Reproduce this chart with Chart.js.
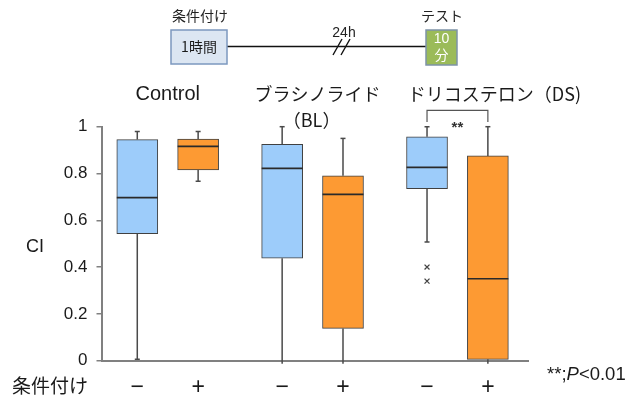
<!DOCTYPE html>
<html>
<head>
<meta charset="utf-8">
<script src="https://cdn.jsdelivr.net/npm/chart.js@4.4.1/dist/chart.umd.min.js"></script>
<style>
  html, body { margin: 0; padding: 0; background: #fff; }
  #c { display: block; }
</style>
</head>
<body>
<canvas id="c" width="629" height="395"></canvas>
<script>
// Conditioning index (CI) per group: without (−) / with (+) conditioning
const groups = ['Control', 'ブラシノライド', 'ドリコステロン'];
const conditioning = ['−', '+', '−', '+', '−', '+'];
const whiskerMax = [0.98, 0.98, 1.00, 0.95, 1.00, 1.00];
const q3 = [0.945, 0.947, 0.925, 0.79, 0.957, 0.875];
const medians = [0.697, 0.916, 0.822, 0.711, 0.826, 0.35];
const q1 = [0.543, 0.815, 0.438, 0.138, 0.735, 0.006];
const whiskerMin = [0.006, 0.767, 0, 0, 0.507, 0];
const outliersDSMinus = [0.40, 0.34];
const yTicks = [0, 0.2, 0.4, 0.6, 0.8, 1];

const BLUE = '#9dccfa';
const ORANGE = '#fd9a33';
const LATIN = '"Liberation Sans", Arial, "Noto Sans CJK JP", sans-serif';
const JP = '"Noto Sans CJK JP", "Liberation Sans", sans-serif';

// each box sits left (−) or right (+) of its group centre
const PAIR_OFFSET = 0.21;
const xPos = conditioning.map((_, i) => Math.floor(i / 2) + 1 + (i % 2 ? PAIR_OFFSET : -PAIR_OFFSET));

const boxPlotExtras = {
  id: 'boxPlotExtras',
  afterDatasetsDraw(chart) {
    const { ctx, scales: { y } } = chart;
    const bars = chart.getDatasetMeta(0).data;
    ctx.save();
    bars.forEach((bar, i) => {
      const cx = bar.x;
      const half = bar.width / 2;
      // whiskers
      ctx.strokeStyle = '#4a4a4a';
      ctx.lineWidth = 1.5;
      ctx.beginPath();
      ctx.moveTo(cx, y.getPixelForValue(q3[i]));
      ctx.lineTo(cx, y.getPixelForValue(whiskerMax[i]));
      ctx.moveTo(cx, y.getPixelForValue(q1[i]));
      ctx.lineTo(cx, y.getPixelForValue(whiskerMin[i]) + (whiskerMin[i] === 0 ? 3 : 0));
      ctx.stroke();
      // caps
      ctx.beginPath();
      [whiskerMax[i], whiskerMin[i]].forEach(v => {
        if (v === 0) return;
        const py = y.getPixelForValue(v);
        ctx.moveTo(cx - 2.5, py);
        ctx.lineTo(cx + 2.5, py);
      });
      ctx.stroke();
      // median
      ctx.strokeStyle = '#2a2a2a';
      ctx.lineWidth = 1.6;
      ctx.beginPath();
      const my = y.getPixelForValue(medians[i]);
      ctx.moveTo(cx - half, my);
      ctx.lineTo(cx + half, my);
      ctx.stroke();
    });

    // significance bracket between DS − and DS +
    const xa = bars[4].x, xb = bars[5].x;
    const top = y.getPixelForValue(1.07), leg = y.getPixelForValue(1.02);
    ctx.strokeStyle = '#555';
    ctx.lineWidth = 1.2;
    ctx.beginPath();
    ctx.moveTo(xa, leg); ctx.lineTo(xa, top); ctx.lineTo(xb, top); ctx.lineTo(xb, leg);
    ctx.stroke();
    ctx.fillStyle = '#333';
    ctx.font = 'bold 15px ' + LATIN;
    ctx.textAlign = 'center';
    ctx.textBaseline = 'middle';
    ctx.fillText('**', (xa + xb) / 2, y.getPixelForValue(1.0) + 1);
    ctx.restore();
  },
  afterDraw(chart) {
    const { ctx, scales: { x, y } } = chart;
    ctx.save();
    ctx.textAlign = 'center';
    ctx.textBaseline = 'middle';
    ctx.fillStyle = '#1a1a1a';

    // group titles
    ctx.font = '20px ' + LATIN;
    ctx.fillText(groups[0], x.getPixelForValue(1), 94);
    ctx.font = '18px ' + JP;
    ctx.fillText(groups[1], x.getPixelForValue(2) + 5, 94);
    ctx.fillText('（BL）', x.getPixelForValue(2) - 1, 120);
    ctx.fillText(groups[2] + '（DS)', x.getPixelForValue(3) + 37, 94);

    // y axis label
    ctx.font = '18px ' + LATIN;
    ctx.fillText('CI', 35, y.getPixelForValue(0.5) + 3);

    // row label for the conditioning ticks
    ctx.font = '19px ' + JP;
    ctx.textAlign = 'left';
    ctx.fillText('条件付け', 12, 386);

    // significance note
    ctx.font = '18.5px ' + LATIN;
    let tx = 547;
    const ty = 375;
    ctx.fillText('**;', tx, ty); tx += ctx.measureText('**;').width;
    ctx.font = 'italic 18.5px ' + LATIN;
    ctx.fillText('P', tx, ty); tx += ctx.measureText('P').width;
    ctx.font = '18.5px ' + LATIN;
    ctx.fillText('<0.01', tx, ty);

    // protocol timeline
    ctx.textAlign = 'center';
    ctx.font = '14px ' + JP;
    ctx.fillStyle = '#222';
    ctx.fillText('条件付け', 200, 16);
    ctx.fillText('テスト', 442, 16);
    ctx.font = '14px ' + LATIN;
    ctx.fillText('24h', 344, 33);

    ctx.strokeStyle = '#111';
    ctx.lineWidth = 1.6;
    ctx.beginPath();
    ctx.moveTo(227, 46.5); ctx.lineTo(426, 46.5);
    ctx.stroke();
    ctx.lineWidth = 1.4;
    ctx.beginPath();
    ctx.moveTo(333, 55); ctx.lineTo(342, 39);
    ctx.moveTo(341, 55); ctx.lineTo(350, 39);
    ctx.stroke();

    ctx.fillStyle = '#dce6f2';
    ctx.fillRect(171, 30, 56, 34);
    ctx.strokeStyle = '#7c98bf';
    ctx.lineWidth = 1.5;
    ctx.strokeRect(171, 30, 56, 34);
    ctx.fillStyle = '#1a1a1a';
    ctx.font = '14px ' + JP;
    ctx.fillText('1時間', 199, 47);

    ctx.fillStyle = '#9bbb59';
    ctx.fillRect(426, 30, 31, 35);
    ctx.strokeStyle = '#7d93a8';
    ctx.strokeRect(426, 30, 31, 35);
    ctx.fillStyle = '#ffffff';
    ctx.font = '14px ' + LATIN;
    ctx.fillText('10', 441.5, 39);
    ctx.font = '14px ' + JP;
    ctx.fillText('分', 441.5, 55);
    ctx.restore();
  }
};

new Chart(document.getElementById('c'), {
  data: {
    datasets: [
      {
        type: 'bar',
        data: xPos.map((xv, i) => ({ x: xv, y: [q1[i], q3[i]] })),
        backgroundColor: xPos.map((_, i) => (i % 2 ? ORANGE : BLUE)),
        borderColor: '#404040',
        borderWidth: 1,
        borderSkipped: false,
        barThickness: 41,
        grouped: false,
        clip: false,
        order: 2
      },
      {
        type: 'scatter',
        data: outliersDSMinus.map(v => ({ x: xPos[4], y: v })),
        pointStyle: 'crossRot',
        radius: 3.5,
        borderColor: '#444',
        borderWidth: 1.3,
        order: 1
      }
    ]
  },
  options: {
    responsive: false,
    devicePixelRatio: 1,
    animation: false,
    layout: { padding: { top: 126.7, right: 101, bottom: 0, left: 0 } },
    plugins: { legend: { display: false }, tooltip: { enabled: false } },
    scales: {
      x: {
        type: 'linear',
        offset: false,
        min: 0.543,
        max: 3.487,
        afterBuildTicks: axis => { axis.ticks = xPos.map(v => ({ value: v })); },
        afterFit: axis => { axis.height = 34.3; },
        ticks: {
          autoSkip: false,
          maxRotation: 0,
          padding: 13,
          color: '#1a1a1a',
          font: { size: 23, family: LATIN },
          callback: (v, i) => conditioning[i]
        },
        grid: { display: false, drawTicks: false },
        border: { display: true, color: '#808080', width: 2 }
      },
      y: {
        type: 'linear',
        min: 0,
        max: 1,
        afterBuildTicks: axis => { axis.ticks = yTicks.map(v => ({ value: v })); },
        afterFit: axis => { axis.width = 101.5; },
        ticks: {
          padding: 9,
          color: '#1a1a1a',
          font: { size: 17, family: LATIN },
          callback: v => String(+v.toFixed(1))
        },
        grid: { drawOnChartArea: false, drawTicks: true, tickLength: 5, color: '#808080', lineWidth: 1.5 },
        border: { display: true, color: '#808080', width: 2 }
      }
    }
  },
  plugins: [boxPlotExtras]
});
</script>
</body>
</html>
